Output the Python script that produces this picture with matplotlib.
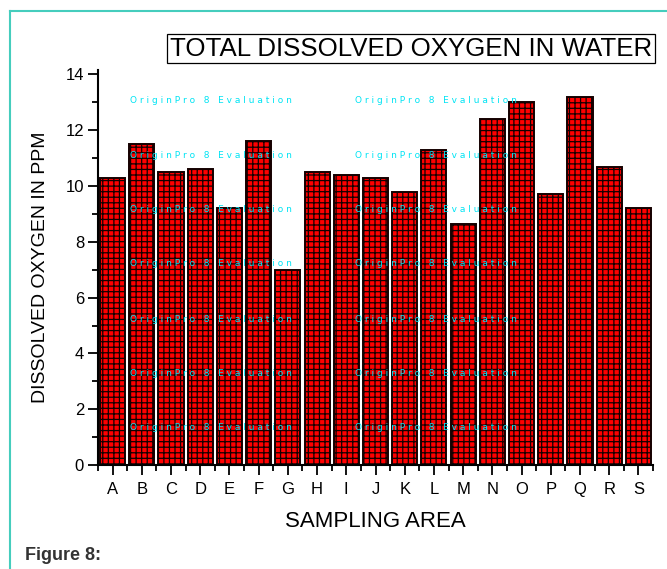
import numpy as np
import matplotlib
matplotlib.use("Agg")
import matplotlib.pyplot as plt
from matplotlib.lines import Line2D
from matplotlib.ticker import MultipleLocator, FixedLocator

# =============================================================================
# DATA
# =============================================================================
areas = ["A", "B", "C", "D", "E", "F", "G", "H", "I", "J",
         "K", "L", "M", "N", "O", "P", "Q", "R", "S"]
oxygen_ppm = [10.3, 11.5, 10.5, 10.6, 9.2, 11.6, 7.0, 10.5, 10.4, 10.3,
              9.8, 11.3, 8.65, 12.4, 13.0, 9.7, 13.2, 10.7, 9.2]

title_text = "TOTAL DISSOLVED OXYGEN IN WATER"
x_label = "SAMPLING AREA"
y_label = "DISSOLVED OXYGEN IN PPM"
caption = "Figure 8:"
watermark = "O r i g i n P r o   8   E v a l u a t i o n"

# watermark grid, in figure pixels (it is not data)
wm_cols = [130, 355]
wm_rows = [101, 156, 210, 264, 319, 373, 427]

W, H = 667, 569
plt.rcParams['font.family'] = ['Liberation Sans', 'DejaVu Sans']
plt.rcParams['hatch.linewidth'] = 0.9

fig = plt.figure(figsize=(W / 100, H / 100), dpi=100)
ax = fig.add_axes([98 / W, 1 - 465 / H, 555 / W, 395 / H])

x = np.arange(len(areas))
ax.bar(x, oxygen_ppm, width=0.86, color="#ff0000", edgecolor="#140000",
       linewidth=1.4, hatch="+++", zorder=2)

ax.set_xlim(-0.5, len(areas) - 0.5)
ax.set_ylim(0, 14.16)

ax.set_xticks(x)
ax.set_xticklabels(areas)
ax.xaxis.set_minor_locator(FixedLocator(np.arange(-0.5, len(areas), 1.0)))
ax.yaxis.set_major_locator(FixedLocator(np.arange(0, 15, 2)))
ax.yaxis.set_minor_locator(MultipleLocator(1))

ax.tick_params(axis="both", which="major", direction="out", length=7,
               width=1.3, labelsize=12, color="black")
ax.tick_params(axis="both", which="minor", direction="out", length=4,
               width=1.3, color="black")
ax.tick_params(axis="x", which="major", pad=5)
ax.tick_params(axis="y", which="major", pad=3)

for side in ["top", "right"]:
    ax.spines[side].set_visible(False)
for side in ["left", "bottom"]:
    ax.spines[side].set_linewidth(1.5)

ax.set_xlabel(x_label, fontsize=16, labelpad=10)
ax.set_ylabel(y_label, fontsize=14, labelpad=12)

# title in a plain box
fig.text(411 / W, 1 - 48.5 / H, title_text, fontsize=18.6, ha="center",
         va="center", bbox=dict(boxstyle="square,pad=0.1", fc="white",
                                ec="black", lw=0.9))

# evaluation watermark
for cx in wm_cols:
    for ry in wm_rows:
        fig.text(cx / W, 1 - ry / H, watermark, fontsize=6.5,
                 color="#00e4f4", ha="left", va="center", zorder=5,
                 family="DejaVu Sans")

# teal page frame (left and top edges)
frame_c = "#45cdbd"
fig.add_artist(Line2D([9.5 / W, 9.5 / W], [0, 1 - 10.5 / H],
                      transform=fig.transFigure, color=frame_c, lw=1.5))
fig.add_artist(Line2D([9.5 / W, 1], [1 - 10.5 / H, 1 - 10.5 / H],
                      transform=fig.transFigure, color=frame_c, lw=1.5))

fig.text(25 / W, 1 - 560 / H, caption, fontsize=13, fontweight="bold",
         color="#333333", ha="left", va="baseline")

fig.savefig("out.png", dpi=100)
